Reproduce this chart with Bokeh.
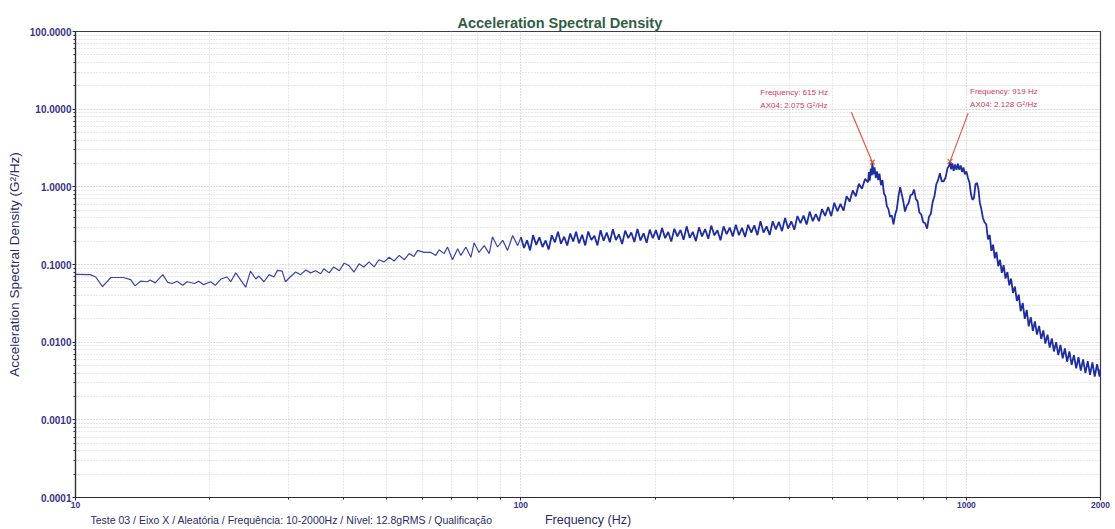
import math
from bokeh.plotting import figure
from bokeh.layouts import column
from bokeh.models import FixedTicker, PrintfTickFormatter, Label, Range1d, ColumnDataSource
from bokeh.embed import file_html
from bokeh.resources import INLINE
from bokeh.core.properties import value

# ---------------- data ----------------
freq_low = [10.0, 10.8, 11.1, 11.5, 12.0, 12.8, 13.3, 13.6, 14.0, 14.5, 14.7, 15.1, 15.7, 16.1,
            16.5, 16.9, 17.4, 17.8, 18.5, 18.9, 19.4, 20.1, 20.6, 21.2, 21.9, 22.3, 22.9, 23.5,
            24.1, 24.7, 25.4, 25.8, 26.5, 27.2, 27.9, 28.4, 29.1, 29.6, 30.4, 31.2, 32.0, 32.9,
            33.7, 34.6, 35.5, 36.1, 37.1, 38.0, 39.1, 40.1, 41.1, 42.2, 43.3, 44.4, 45.6, 46.8,
            48.0, 49.3, 50.6, 51.9, 53.3, 54.7, 56.1, 57.5, 58.6, 60.6, 62.8, 64.4, 65.5, 67.2,
            68.4, 70.2, 72.1, 73.3, 75.2, 77.2, 78.5, 80.5, 82.7, 84.9, 86.3, 88.6, 91.0, 93.3,
            95.8, 98.3]
asd_low = [0.0746, 0.074, 0.069, 0.052, 0.068, 0.068, 0.064, 0.053, 0.061, 0.060, 0.063, 0.058,
           0.074, 0.059, 0.057, 0.061, 0.054, 0.060, 0.057, 0.061, 0.055, 0.060, 0.054, 0.065,
           0.069, 0.060, 0.078, 0.063, 0.051, 0.082, 0.065, 0.071, 0.060, 0.074, 0.069, 0.084,
           0.082, 0.060, 0.070, 0.080, 0.074, 0.085, 0.078, 0.083, 0.076, 0.088, 0.078, 0.093,
           0.083, 0.104, 0.097, 0.080, 0.102, 0.093, 0.108, 0.093, 0.115, 0.108, 0.124, 0.111,
           0.131, 0.115, 0.138, 0.127, 0.152, 0.143, 0.143, 0.131, 0.155, 0.138, 0.168, 0.115,
           0.160, 0.131, 0.168, 0.124, 0.190, 0.143, 0.175, 0.138, 0.227, 0.168, 0.205, 0.152,
           0.236, 0.175]

freq_mid = [100, 101.6, 103.2, 104.8, 106.5, 108.2, 110, 111.8, 113.6, 115.4, 117.3, 119.2,
            121.1, 123, 125, 127, 129, 131, 133, 135, 137.2, 139.4, 141.6, 143.9, 146.2, 148.5,
            150.9, 153.3, 155.8, 158.3, 160.8, 163.4, 166, 168.7, 171.4, 174.1, 176.9, 179.7,
            182.6, 185.5, 188.5, 191.5, 194.6, 197.7, 200.9, 204.1, 207.4, 210.7, 214.1, 217.5,
            221, 224.5, 228.1, 231.8, 235.5, 239.3, 243.1, 247, 251, 255, 259.1, 263.3, 267.5,
            271.8, 276.1, 280.5, 285, 289.6, 294.2, 298.9, 303.7, 308.6, 313.5, 318.5, 323.6,
            328.8, 334.1, 339.5, 344.9, 350.4, 356, 361.7, 367.5, 373.4, 379.4, 385.5, 391.7,
            398, 404.4, 410.9, 417.5, 424.2, 431, 437.9, 444.9, 452, 459.2, 466.6, 474.1, 481.7,
            489.4, 497.2, 505.2, 513.3, 521.5, 529.8, 538.3, 546.9, 555.7, 564.6, 573.6, 582.8,
            592.1, 601.6]
asd_mid = [0.224, 0.163, 0.205, 0.152, 0.238, 0.179, 0.224, 0.168, 0.204, 0.156, 0.238, 0.193,
           0.265, 0.185, 0.228, 0.176, 0.251, 0.198, 0.264, 0.187, 0.242, 0.176, 0.266, 0.207,
           0.234, 0.176, 0.276, 0.202, 0.258, 0.193, 0.285, 0.207, 0.244, 0.184, 0.273, 0.219,
           0.259, 0.195, 0.287, 0.204, 0.252, 0.190, 0.281, 0.218, 0.277, 0.208, 0.296, 0.218,
           0.262, 0.198, 0.288, 0.230, 0.278, 0.208, 0.310, 0.220, 0.263, 0.200, 0.301, 0.230,
           0.286, 0.214, 0.317, 0.237, 0.276, 0.205, 0.310, 0.246, 0.299, 0.230, 0.324, 0.238,
           0.297, 0.226, 0.325, 0.258, 0.319, 0.239, 0.360, 0.258, 0.310, 0.240, 0.360, 0.282,
           0.353, 0.269, 0.397, 0.290, 0.360, 0.280, 0.421, 0.340, 0.426, 0.328, 0.480, 0.361,
           0.445, 0.361, 0.518, 0.423, 0.549, 0.420, 0.624, 0.484, 0.604, 0.492, 0.759, 0.648,
           0.896, 0.757, 1.094, 0.945, 1.265, 1.144]

freq_peak = [604, 607, 610, 613, 615, 618, 622, 626, 630, 634, 638, 643, 648, 653, 658, 663, 668,
             674, 680, 686, 692, 698, 704, 710, 716, 722, 728, 735, 742, 749, 756, 763, 770, 777,
             784, 792, 800, 808, 816, 824, 832, 840, 848, 856, 864, 872, 880, 889, 898, 907, 914,
             919, 924, 930, 936, 943, 950, 957, 964, 971, 978, 985, 992, 1000, 1008, 1016, 1024,
             1032, 1040, 1048, 1056, 1064, 1072, 1080, 1089, 1098]
asd_peak = [1.55, 1.20, 1.72, 1.40, 2.075, 1.45, 1.78, 1.30, 1.58, 1.22, 1.48, 1.05, 1.22, 0.82,
            0.76, 0.56, 0.52, 0.41, 0.43, 0.33, 0.44, 0.52, 0.76, 0.99, 0.80, 0.64, 0.48, 0.57,
            0.62, 0.78, 0.80, 0.92, 0.70, 0.65, 0.47, 0.44, 0.35, 0.34, 0.29, 0.41, 0.45, 0.64,
            0.76, 1.08, 1.22, 1.50, 1.18, 1.18, 1.32, 1.74, 1.85, 2.128, 1.68, 2.02, 1.60, 1.94,
            1.66, 1.98, 1.66, 1.88, 1.55, 1.78, 1.45, 1.58, 1.30, 1.14, 0.80, 0.68, 0.72, 1.08,
            1.12, 0.94, 0.62, 0.52, 0.40, 0.35]

freq_high = [1108, 1118, 1128, 1138, 1148, 1158, 1168, 1179, 1190, 1201, 1212, 1224, 1236, 1248,
             1260, 1272, 1285, 1298, 1311, 1324, 1338, 1352, 1366, 1380, 1395, 1410, 1425, 1440,
             1456, 1472, 1488, 1504, 1521, 1538, 1555, 1572, 1590, 1608, 1626, 1645, 1664, 1683,
             1703, 1723, 1743, 1764, 1785, 1806, 1828, 1850, 1872, 1895, 1918, 1941, 1965, 1990,
             2000]
asd_high = [0.33, 0.21, 0.24, 0.15, 0.18, 0.12, 0.145, 0.095, 0.115, 0.078, 0.098, 0.066, 0.080,
            0.054, 0.066, 0.043, 0.052, 0.034, 0.041, 0.025, 0.032, 0.020, 0.026, 0.016, 0.021,
            0.0140, 0.0185, 0.0125, 0.0162, 0.0110, 0.0142, 0.0096, 0.0125, 0.0085, 0.0112,
            0.0076, 0.0100, 0.0068, 0.0092, 0.0062, 0.0083, 0.0056, 0.0076, 0.0051, 0.0068,
            0.0046, 0.0064, 0.0043, 0.0060, 0.0040, 0.0057, 0.0038, 0.0055, 0.0036, 0.0052,
            0.0036, 0.0045]

peak_freq = [615, 919]
peak_asd = [2.075, 2.128]
peak_line1 = ["Frequency: 615 Hz", "Frequency: 919 Hz"]
peak_line2 = ["AX04: 2.075 G²/Hz", "AX04: 2.128 G²/Hz"]

x_tick_values = [10, 100, 1000, 2000]
y_tick_values = [0.0001, 0.001, 0.01, 0.1, 1, 10, 100]

title_text = "Acceleration Spectral Density"
x_label = "Frequency (Hz)"
y_label = "Acceleration Spectral Density (G²/Hz)"
footer_text = "Teste 03 / Eixo X / Aleatória / Frequência: 10-2000Hz / Nível: 12.8gRMS / Qualificação"

# ---------------- layout ----------------
W = 1113
H_MAIN, H_STRIP = 513, 15
BL, BR, BT, BB = 75, 13, 31, 16
FW, FH = W - BL - BR, H_MAIN - BT - BB
X0, X1 = 10, 2000
Y0, Y1 = 1e-4, 100
px_dec_x = FW / math.log10(X1 / X0)
px_dec_y = FH / math.log10(Y1 / Y0)

FONT = "Liberation Sans"
NAVY = "#35358a"
TEXT_NAVY = "#2a2a6a"

freqs = freq_low + freq_mid + freq_peak + freq_high
asd = asd_low + asd_mid + asd_peak + asd_high
n_low = len(freq_low)

p = figure(width=W, height=H_MAIN, x_axis_type="log", y_axis_type="log",
           x_range=Range1d(X0, X1), y_range=Range1d(Y0, Y1),
           output_backend="svg", toolbar_location=None,
           min_border_left=BL, min_border_right=BR, min_border_top=BT, min_border_bottom=BB)
p.background_fill_color = "white"
p.border_fill_color = "white"
p.outline_line_color = "#3a3a4a"
p.outline_line_width = 1.2

p.title.text = title_text
p.title.text_font = FONT
p.title.text_font_size = "14.5px"
p.title.text_font_style = "bold"
p.title.text_color = "#2f5e46"
p.title.align = "left"
p.title.offset = 382
p.title.standoff = 2

# grid
for g in (p.xgrid, p.ygrid):
    g.grid_line_color = "#b8b8b8"
    g.grid_line_dash = "1 2"
    g.grid_line_width = 1
    g.minor_grid_line_color = "#d0d0d0"
    g.minor_grid_line_dash = "1 2"
    g.minor_grid_line_width = 1

x_minor = [m * d for d in (10, 100, 1000) for m in range(2, 10) if m * d < 2000]
p.xaxis.ticker = FixedTicker(ticks=x_tick_values, minor_ticks=x_minor)
y_minor = [m * d for d in y_tick_values[:-1] for m in range(2, 10)]
p.yaxis.ticker = FixedTicker(ticks=y_tick_values, minor_ticks=y_minor)
p.xaxis.formatter = PrintfTickFormatter(format="%d")
p.yaxis.formatter = PrintfTickFormatter(format="%.4f")

for ax in (p.xaxis, p.yaxis):
    ax.axis_line_color = "#2a2a3a"
    ax.axis_line_width = 1.2
    ax.major_tick_line_color = "#2a2a3a"
    ax.minor_tick_line_color = "#2a2a3a"
    ax.major_tick_out = 3
    ax.major_tick_in = 0
    ax.minor_tick_out = 2
    ax.minor_tick_in = 0
    ax.major_label_text_font = FONT
    ax.major_label_text_font_style = "bold"
    ax.major_label_text_color = NAVY
    ax.major_label_standoff = 1

p.yaxis.major_label_text_font_size = "10px"
p.xaxis.major_label_text_font_size = "8.5px"
p.yaxis.axis_label = y_label
p.yaxis.axis_label_text_font = FONT
p.yaxis.axis_label_text_font_size = "13.5px"
p.yaxis.axis_label_text_font_style = "normal"
p.yaxis.axis_label_text_color = TEXT_NAVY
p.yaxis.axis_label_standoff = 5

# the trace: one series, drawn thinner where the analyser points are sparse
src_lo = ColumnDataSource(dict(f=freqs[:n_low + 1], v=asd[:n_low + 1]))
src_hi = ColumnDataSource(dict(f=freqs[n_low:], v=asd[n_low:]))
p.line("f", "v", source=src_lo, line_color="#3a44a8", line_width=1.2)
p.line("f", "v", source=src_hi, line_color="#1f2e9e", line_width=1.8)

# peak markers with callouts
text_dx = [-112, 20]
lead_dx = [-21, 18]
lead_dy = [-50, -48]
for i in range(2):
    f0, v0 = peak_freq[i], peak_asd[i]
    fs = f0 * 10 ** (lead_dx[i] / px_dec_x)
    vs = v0 * 10 ** (-lead_dy[i] / px_dec_y)
    p.segment(x0=[fs], y0=[vs], x1=[f0], y1=[v0], line_color="#e4583e", line_width=1.2)
    p.scatter(x=[f0], y=[v0], marker="x", size=7, line_color="#e4583e", line_width=1.2)
    p.text(x=[f0], y=[v0], text=[peak_line1[i]], x_offset=text_dx[i], y_offset=-70,
           text_font=value(FONT), text_font_size="8px", text_color="#d2365c",
           text_align="left", text_baseline="middle")
    p.text(x=[f0], y=[v0], text=[peak_line2[i]], x_offset=text_dx[i], y_offset=-57,
           text_font=value(FONT), text_font_size="8px", text_color="#d2365c",
           text_align="left", text_baseline="middle")

# bottom strip (its frame is aligned with the main frame): axis title and footer line
strip = figure(width=W, height=H_STRIP, x_range=Range1d(BL, W - BR), y_range=Range1d(0, H_STRIP),
               output_backend="svg", toolbar_location=None,
               x_axis_location=None, y_axis_location=None,
               min_border_left=0, min_border_right=0, min_border_top=0, min_border_bottom=0)
strip.outline_line_color = None
strip.xgrid.visible = False
strip.ygrid.visible = False
strip.add_layout(Label(x=BL + FW / 2, y=H_STRIP / 2 + 1, text=x_label,
                       text_font=FONT, text_font_size="12.5px", text_color=TEXT_NAVY,
                       text_align="center", text_baseline="middle"))
strip.add_layout(Label(x=90, y=H_STRIP / 2 + 1, text=footer_text,
                       text_font=FONT, text_font_size="10.5px", text_color=TEXT_NAVY,
                       text_align="left", text_baseline="middle"))

layout = column(p, strip, spacing=0)
open("out.html", "w").write(file_html(layout, INLINE))
